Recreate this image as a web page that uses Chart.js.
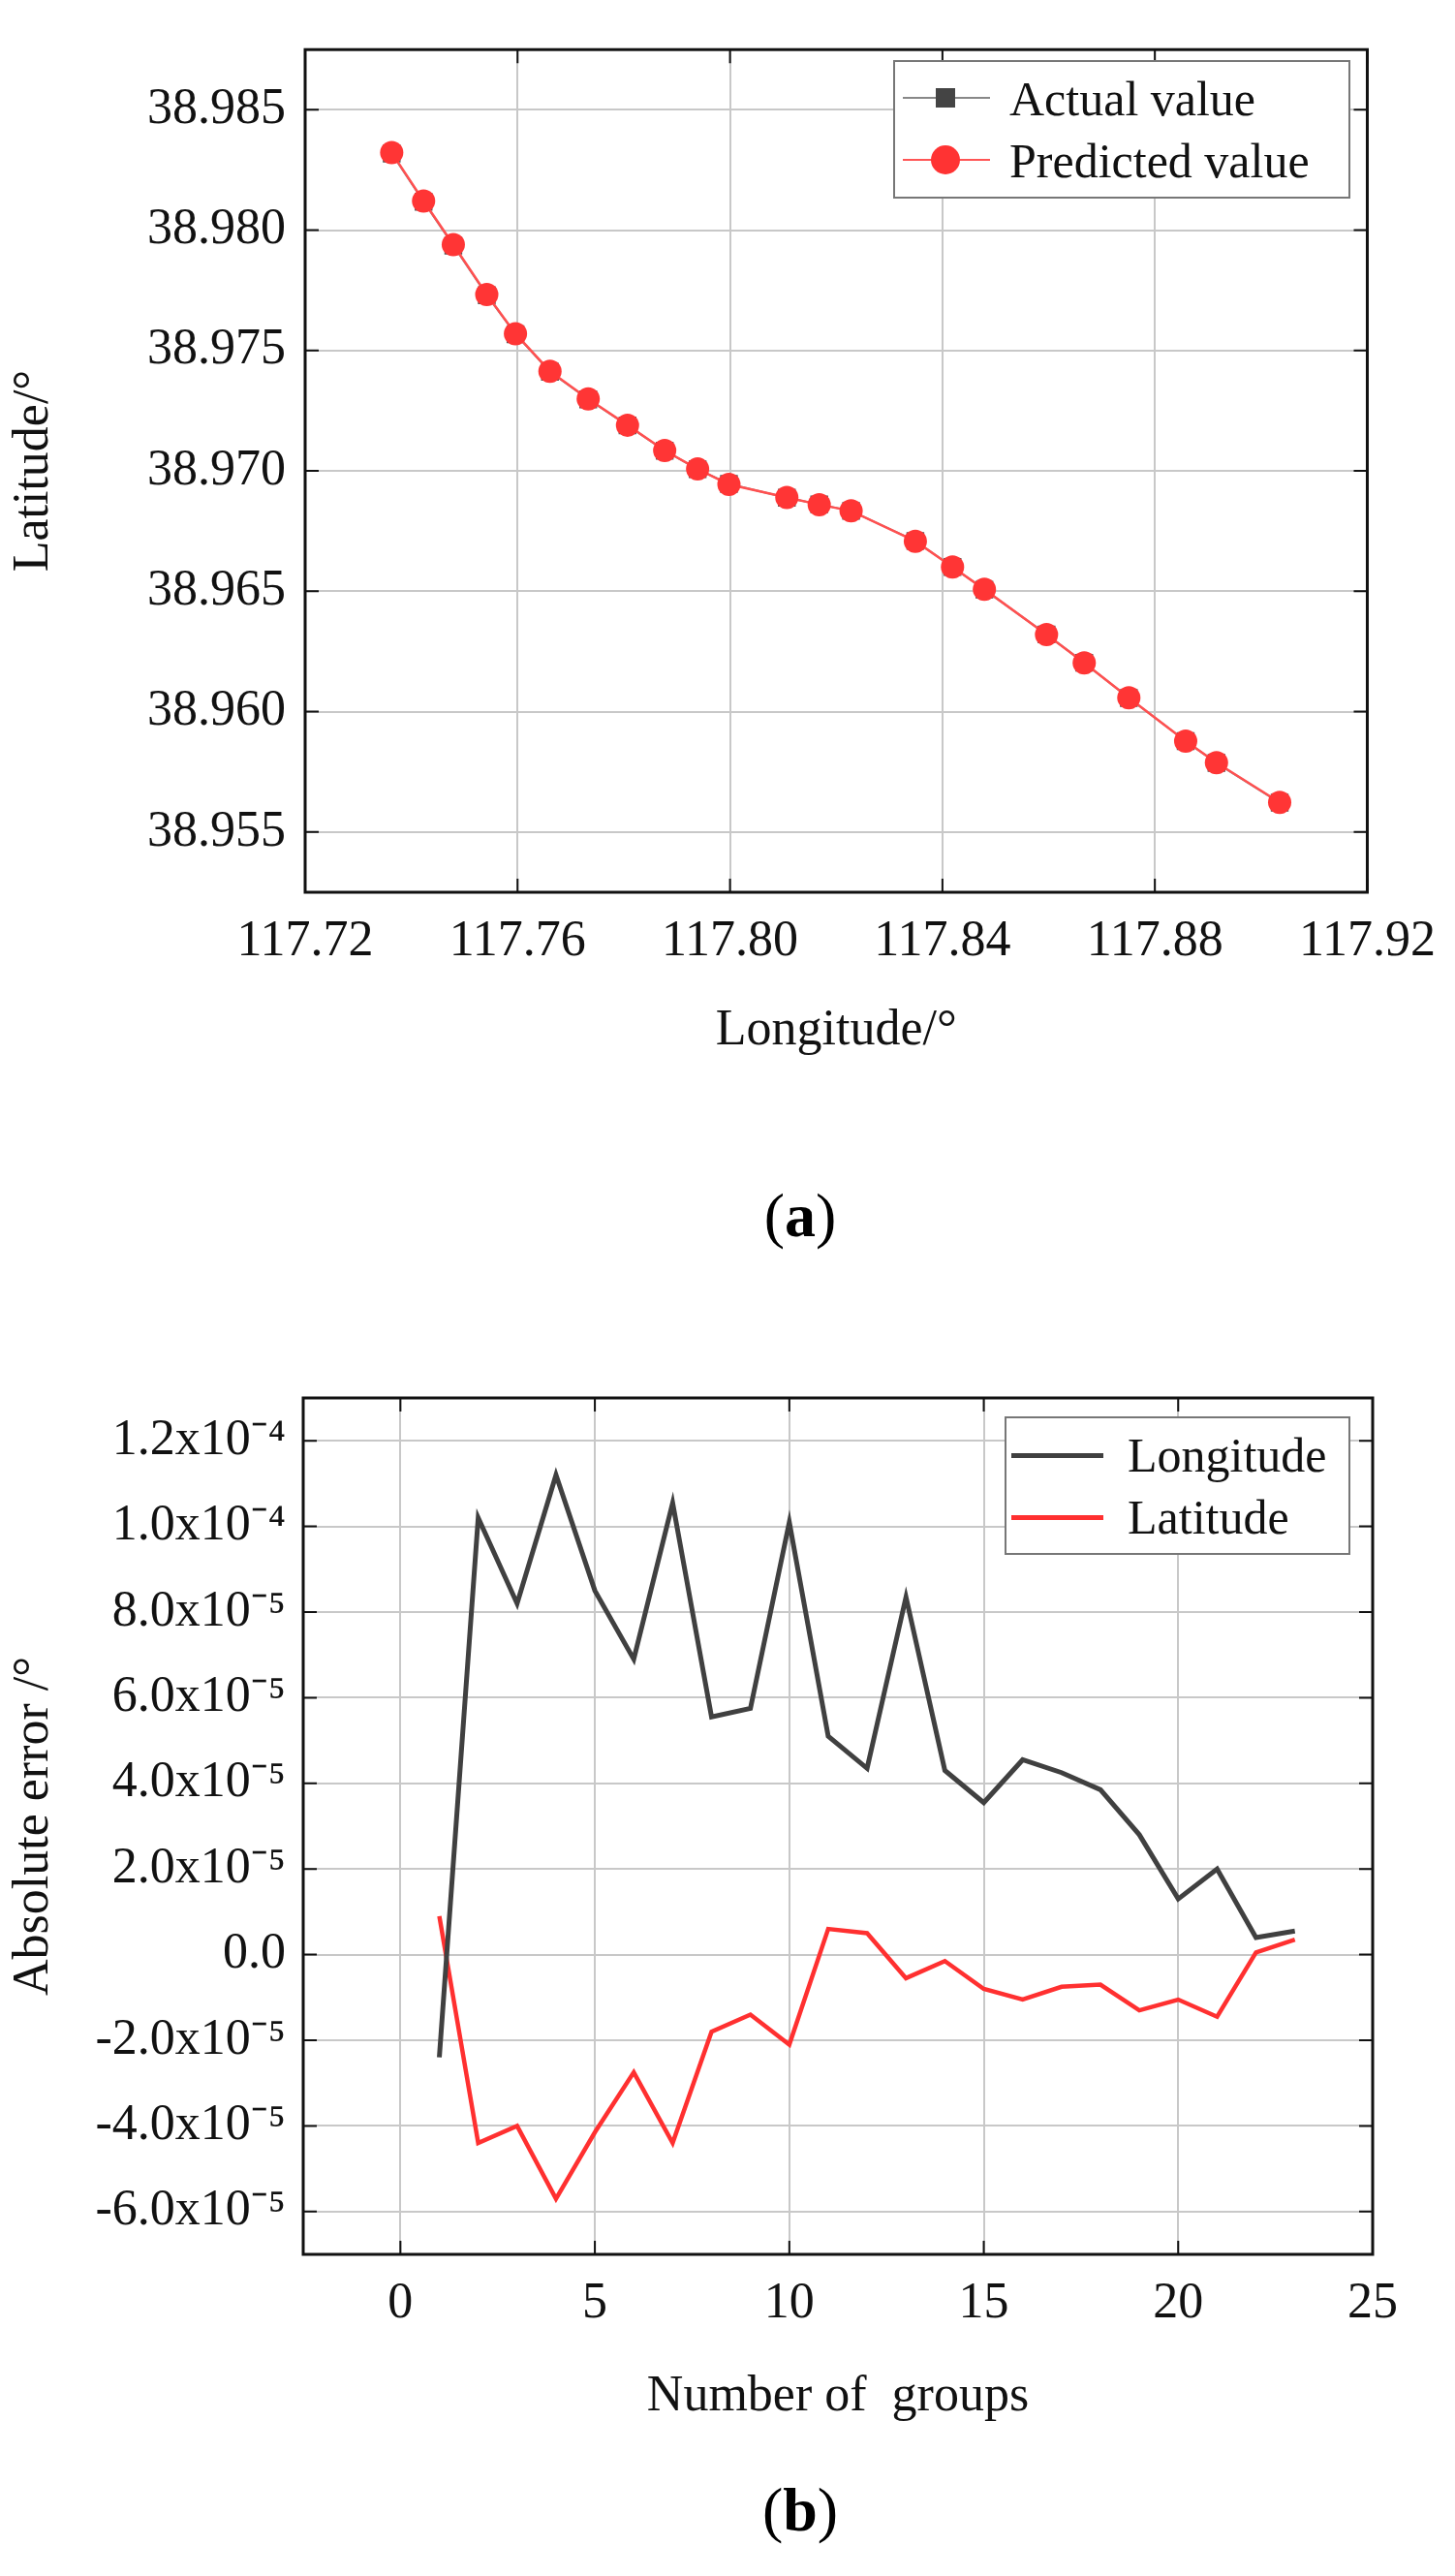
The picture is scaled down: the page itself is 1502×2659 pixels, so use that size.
<!DOCTYPE html>
<html><head><meta charset="utf-8">
<script src="https://cdn.jsdelivr.net/npm/chart.js@4"></script>
<style>
body{margin:0;background:#fff;width:1502px;height:2659px;position:relative;overflow:hidden;font-family:"Liberation Serif",serif;}
.wrap{position:absolute;left:0;width:1502px;}
.cap{position:absolute;width:200px;text-align:center;font-size:64px;left:726px;}
.leg{position:absolute;border:2px solid #777;background:#fff;font-size:50px;color:#111;}
.row{position:absolute;left:0;height:60px;line-height:60px;}
</style></head><body>
<div class="wrap" style="top:0;height:1100px"><canvas id="a"></canvas></div>
<div class="wrap" style="top:1380px;height:1130px"><canvas id="b"></canvas></div>
<div class="cap" style="top:1218px">(<b>a</b>)</div>
<div class="cap" style="top:2554px">(<b>b</b>)</div>
<div class="leg" style="left:922px;top:62px;width:468px;height:139px">
 <div class="row" style="top:8px;width:460px"><span style="position:absolute;left:8px;top:28px;width:90px;height:2px;background:#888"></span><span style="position:absolute;left:42px;top:19px;width:20px;height:20px;background:#444"></span><span style="position:absolute;left:118px">Actual value</span></div>
 <div class="row" style="top:72px;width:460px"><span style="position:absolute;left:8px;top:28px;width:90px;height:2px;background:#f55"></span><span style="position:absolute;left:37px;top:14px;width:30px;height:30px;border-radius:50%;background:#f33"></span><span style="position:absolute;left:118px">Predicted value</span></div>
</div>
<div class="leg" style="left:1037px;top:1462px;width:353px;height:139px">
 <div class="row" style="top:8px;width:350px"><span style="position:absolute;left:5px;top:28px;width:95px;height:5px;background:#404040"></span><span style="position:absolute;left:125px">Longitude</span></div>
 <div class="row" style="top:72px;width:350px"><span style="position:absolute;left:5px;top:28px;width:95px;height:5px;background:#ff3030"></span><span style="position:absolute;left:125px">Latitude</span></div>
</div>
<script>
// Chart (a)
const lonA = [117.7363,117.7423,117.7479,117.7542,117.7596,117.7661,117.7733,117.7807,117.7877,117.7939,117.7998,117.8107,117.8168,117.8228,117.8349,117.8419,117.8479,117.8596,117.8667,117.8751,117.8858,117.8916,117.9035];
const latA = [38.98318,38.98118,38.97936,38.97730,38.97568,38.97412,38.97297,38.97189,38.97084,38.97007,38.96946,38.96889,38.96861,38.96834,38.96709,38.96601,38.96507,38.96321,38.96203,38.96057,38.95878,38.95787,38.95622];
const latPred = [38.98322,38.98121,38.97940,38.97733,38.97570,38.97414,38.97299,38.97190,38.97085,38.97008,38.96944,38.96890,38.96860,38.96834,38.96708,38.96601,38.96508,38.96320,38.96203,38.96058,38.95878,38.95788,38.95623];
const xTicksA = [117.72,117.76,117.80,117.84,117.88,117.92];
const yTicksA = [38.955,38.960,38.965,38.970,38.975,38.980,38.985];
// Chart (b)
const groups = [1,2,3,4,5,6,7,8,9,10,11,12,13,14,15,16,17,18,19,20,21,22,23];
const lonErr = [-2.4e-5,10.2e-5,8.2e-5,11.2e-5,8.5e-5,6.9e-5,10.55e-5,5.55e-5,5.75e-5,10.1e-5,5.1e-5,4.35e-5,8.35e-5,4.3e-5,3.55e-5,4.55e-5,4.25e-5,3.85e-5,2.8e-5,1.3e-5,2.0e-5,0.4e-5,0.55e-5];
const latErr = [0.9e-5,-4.4e-5,-4.0e-5,-5.7e-5,-4.15e-5,-2.75e-5,-4.4e-5,-1.8e-5,-1.4e-5,-2.1e-5,0.6e-5,0.5e-5,-0.55e-5,-0.15e-5,-0.8e-5,-1.05e-5,-0.75e-5,-0.7e-5,-1.3e-5,-1.05e-5,-1.45e-5,0.05e-5,0.35e-5];
const xTicksB = [0,5,10,15,20,25];
const yTicksB = [-6e-5,-4e-5,-2e-5,0,2e-5,4e-5,6e-5,8e-5,10e-5,12e-5];
const yLabelsB = ['-6.0x10⁻⁵','-4.0x10⁻⁵','-2.0x10⁻⁵','0.0','2.0x10⁻⁵','4.0x10⁻⁵','6.0x10⁻⁵','8.0x10⁻⁵','1.0x10⁻⁴','1.2x10⁻⁴'];

const FONT = {family:'"Liberation Serif", serif', size:52};
Chart.defaults.font.family = FONT.family;
Chart.defaults.color = '#111';
const box = {id:'box',afterDraw(c){const a=c.chartArea,x=c.ctx;x.save();x.strokeStyle='#111';x.lineWidth=3;x.strokeRect(a.left,a.top,a.right-a.left,a.bottom-a.top);
 x.lineWidth=2;const L=14;
 c.scales.x.ticks.forEach(t=>{const p=c.scales.x.getPixelForValue(t.value);x.beginPath();x.moveTo(p,a.bottom);x.lineTo(p,a.bottom-L);x.moveTo(p,a.top);x.lineTo(p,a.top+L);x.stroke();});
 c.scales.y.ticks.forEach(t=>{const p=c.scales.y.getPixelForValue(t.value);x.beginPath();x.moveTo(a.left,p);x.lineTo(a.left+L,p);x.moveTo(a.right,p);x.lineTo(a.right-L,p);x.stroke();});
 x.restore();}};
const grid = {color:'#c8c8c8',lineWidth:2,drawTicks:false};

function mk(id, cfg){ return new Chart(document.getElementById(id), cfg); }

mk('a',{type:'scatter',
 data:{datasets:[
  {label:'Actual value',order:2,data:lonA.map((v,i)=>({x:v,y:latA[i]})),showLine:true,borderColor:'#888',borderWidth:2,pointStyle:'rect',pointRadius:13,backgroundColor:'#555',pointBorderWidth:0},
  {label:'Predicted value',order:1,data:lonA.map((v,i)=>({x:v,y:latPred[i]})),showLine:true,borderColor:'#ff5050',borderWidth:2.5,pointStyle:'circle',pointRadius:12,backgroundColor:'#ff3535',pointBorderWidth:0}
 ]},
 options:{responsive:true,maintainAspectRatio:false,animation:false,
  layout:{padding:{top:38,right:84,left:0,bottom:0}},
  plugins:{legend:{display:false},tooltip:{enabled:false}},
  scales:{
   x:{type:'linear',min:117.72,max:117.92,grid:grid,border:{display:false},
      afterBuildTicks:s=>{s.ticks=xTicksA.map(v=>({value:v}));},
      ticks:{font:FONT,padding:20,maxRotation:0,callback:v=>v.toFixed(2)},
      title:{display:true,text:'Longitude/°',font:FONT,padding:{top:24}},
      afterFit:s=>{s.height=179;}},
   y:{min:38.9525,max:38.9875,grid:grid,border:{display:false},
      afterBuildTicks:s=>{s.ticks=yTicksA.map(v=>({value:v}));},
      ticks:{font:FONT,padding:20,callback:v=>v.toFixed(3)},
      title:{display:true,text:'Latitude/°',font:FONT,padding:{bottom:4}},
      afterFit:s=>{s.width=315;}}
  }},plugins:[box]});

mk('b',{type:'line',
 data:{datasets:[
  {label:'Longitude',data:groups.map((g,i)=>({x:g,y:lonErr[i]})),borderColor:'#404040',borderWidth:5,pointRadius:0,tension:0},
  {label:'Latitude',data:groups.map((g,i)=>({x:g,y:latErr[i]})),borderColor:'#ff3030',borderWidth:4.5,pointRadius:0,tension:0}
 ]},
 options:{responsive:true,maintainAspectRatio:false,animation:false,
  layout:{padding:{top:63,right:85,left:0,bottom:0}},
  plugins:{legend:{display:false},tooltip:{enabled:false}},
  scales:{
   x:{type:'linear',min:-2.5,max:25,grid:grid,border:{display:false},
      afterBuildTicks:s=>{s.ticks=xTicksB.map(v=>({value:v}));},
      ticks:{font:FONT,padding:20,maxRotation:0},
      title:{display:true,text:'Number of  groups',font:FONT,padding:{top:22}},
      afterFit:s=>{s.height=183;}},
   y:{min:-7e-5,max:1.3e-4,grid:grid,border:{display:false},
      afterBuildTicks:s=>{s.ticks=yTicksB.map(v=>({value:v}));},
      ticks:{font:FONT,padding:18,callback:(v)=>{const i=yTicksB.findIndex(t=>Math.abs(t-v)<1e-9);return i>=0?yLabelsB[i]:'';}},
      title:{display:true,text:'Absolute error /°',font:FONT,padding:{bottom:0}},
      afterFit:s=>{s.width=313;}}
  }},plugins:[box]});
</script>
</body></html>
